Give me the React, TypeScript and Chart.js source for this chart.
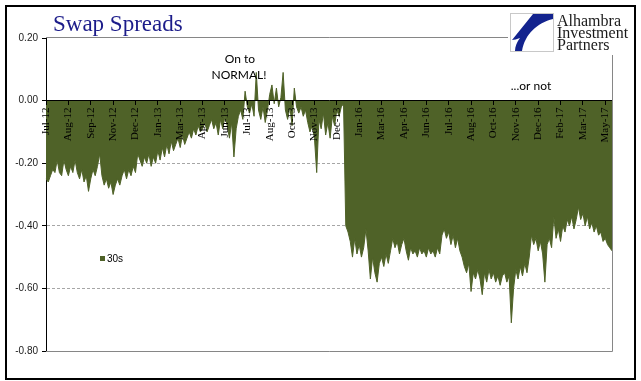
import React, { useEffect, useRef } from "react";
import { Chart, registerables } from "chart.js";

Chart.register(...registerables);

const TITLE = "Swap Spreads";
const SERIES_NAME = "30s";
const LOGO_LINES = ["Alhambra", "Investment", "Partners"];
const NOTE_1 = ["On to", "NORMAL!"];
const NOTE_2 = "...or not";

const tickLabels = [
  "Jul-12", "Aug-12", "Sep-12", "Nov-12", "Dec-12", "Jan-13", "Mar-13", "Apr-13", "Jun-13",
  "Jul-13", "Aug-13", "Oct-13", "Nov-13", "Dec-13", "Jan-16", "Mar-16", "Apr-16", "Jun-16",
  "Jul-16", "Aug-16", "Oct-16", "Nov-16", "Dec-16", "Feb-17", "Mar-17", "May-17",
];
const POINTS_PER_LABEL = 10;

const yTicks = [0.2, 0, -0.2, -0.4, -0.6, -0.8];

// 30-year swap spread, Jul 2012 - Dec 2013
const spread30s_2012_13 = [
  -0.25, -0.26, -0.24, -0.22, -0.23, -0.19, -0.23, -0.24, -0.19, -0.22,
  -0.24, -0.21, -0.23, -0.19, -0.23, -0.25, -0.22, -0.26, -0.24, -0.29,
  -0.25, -0.22, -0.24, -0.21, -0.17, -0.24, -0.27, -0.25, -0.28, -0.26,
  -0.30, -0.27, -0.25, -0.27, -0.24, -0.22, -0.25, -0.22, -0.24, -0.21,
  -0.23, -0.17, -0.19, -0.21, -0.18, -0.20, -0.17, -0.21, -0.18, -0.20,
  -0.16, -0.19, -0.15, -0.18, -0.14, -0.17, -0.13, -0.16, -0.14, -0.12,
  -0.15, -0.11, -0.14, -0.12, -0.10, -0.12, -0.09, -0.11, -0.08, -0.10,
  -0.09, -0.07, -0.10, -0.08, -0.06, -0.09, -0.07, -0.11, -0.06, -0.09,
  -0.05, -0.08, -0.12, -0.07, -0.18, -0.09, -0.05, -0.03, -0.06, 0.03,
  -0.02, -0.04, -0.01, -0.05, 0.09, -0.03, -0.06, -0.02, -0.07, -0.03,
  0.02, 0.05, -0.01, 0.04, -0.02, 0.01, 0.09, -0.03, -0.06, -0.02,
  -0.08, 0.04, -0.02, -0.04, -0.02, -0.05, -0.03, -0.07, -0.10, -0.08,
  -0.12, -0.23, -0.06, -0.09, -0.04, -0.11, -0.07, -0.12, -0.05, -0.08,
  -0.03, -0.05, -0.02, -0.01,
];

// 30-year swap spread, Jan 2016 - May 2017
const spread30s_2016_17 = [
  -0.40, -0.42, -0.45, -0.50, -0.44, -0.49,
  -0.46, -0.50, -0.47, -0.41, -0.48, -0.57, -0.50, -0.55, -0.58, -0.52,
  -0.50, -0.53, -0.49, -0.52, -0.48, -0.44, -0.47, -0.45, -0.49, -0.46,
  -0.44, -0.48, -0.51, -0.47, -0.49, -0.48, -0.50, -0.47, -0.49, -0.48,
  -0.50, -0.47, -0.49, -0.48, -0.50, -0.47, -0.49, -0.43, -0.41, -0.44,
  -0.42, -0.46, -0.43, -0.47, -0.44, -0.48, -0.50, -0.53, -0.55, -0.52,
  -0.61, -0.55, -0.57, -0.54, -0.57, -0.62, -0.55, -0.58, -0.54, -0.57,
  -0.55, -0.58, -0.56, -0.59, -0.56, -0.55, -0.58, -0.56, -0.71, -0.60,
  -0.54, -0.57, -0.53, -0.56, -0.52, -0.55, -0.50, -0.43, -0.46, -0.44,
  -0.48, -0.45, -0.49, -0.58, -0.46, -0.44, -0.47, -0.37, -0.44, -0.41,
  -0.45, -0.40, -0.42, -0.38, -0.40, -0.37, -0.41, -0.38, -0.34, -0.38,
  -0.36, -0.40, -0.37, -0.41, -0.39, -0.42, -0.40, -0.43, -0.42, -0.45,
  -0.44, -0.46, -0.47, -0.48,
];

const AREA_COLOR = "#4f6228";

const decorPlugin = {
  id: "decor",
  beforeDraw(chart: any) {
    const ctx = chart.ctx;
    ctx.save();
    ctx.fillStyle = "#ffffff";
    ctx.fillRect(0, 0, chart.width, chart.height);
    ctx.restore();
  },
  afterDraw(chart: any) {
    const ctx = chart.ctx;
    const ca = chart.chartArea;
    const ys = chart.scales.y;
    const xs = chart.scales.x;
    ctx.save();

    // plot border (top, right, bottom)
    const top = Math.round(ys.getPixelForValue(yTicks[0])) - 0.5;
    const bot = Math.round(ys.getPixelForValue(yTicks[yTicks.length - 1])) + 0.5;
    const right = Math.round(ca.right) + 0.5;
    ctx.strokeStyle = "#868686";
    ctx.lineWidth = 1;
    ctx.beginPath();
    ctx.moveTo(ca.left, top);
    ctx.lineTo(right, top);
    ctx.lineTo(right, bot);
    ctx.lineTo(ca.left, bot);
    ctx.stroke();

    // logo area
    ctx.fillStyle = "#ffffff";
    ctx.fillRect(508, 8, 126, 47);
    ctx.strokeStyle = "#c8c8c8";
    ctx.strokeRect(510.5, 13.5, 43, 38);
    ctx.fillStyle = "#13238e";
    ctx.beginPath();
    ctx.moveTo(533, 14);
    ctx.lineTo(553, 14);
    ctx.lineTo(553, 19);
    ctx.bezierCurveTo(537, 23, 525, 34, 522, 51);
    ctx.lineTo(515, 51);
    ctx.bezierCurveTo(515, 46, 517, 42, 520, 38);
    ctx.bezierCurveTo(517, 39, 514, 40, 512, 40);
    ctx.closePath();
    ctx.fill();
    ctx.fillStyle = "#1a1a1a";
    ctx.font = '16px "Liberation Serif"';
    ctx.textAlign = "left";
    ctx.textBaseline = "alphabetic";
    LOGO_LINES.forEach((s, i) => ctx.fillText(s, 557, 26 + i * 12));

    // outer frame
    ctx.strokeStyle = "#000000";
    ctx.lineWidth = 2;
    ctx.strokeRect(6, 6, 629, 373);

    // title
    ctx.fillStyle = "#1c1c8a";
    ctx.font = '23px "Liberation Serif"';
    ctx.fillText(TITLE, 53, 31);

    // annotations
    ctx.fillStyle = "#000000";
    ctx.font = '12px Lato';
    ctx.textAlign = "center";
    ctx.textBaseline = "middle";
    ctx.fillText(NOTE_1[0], 240, 59);
    ctx.fillText(NOTE_1[1], 239, 75);
    ctx.fillText(NOTE_2, 531, 86);

    // legend
    ctx.fillStyle = AREA_COLOR;
    ctx.fillRect(100, 256, 5, 5);
    ctx.fillStyle = "#000000";
    ctx.font = '10px "Liberation Sans"';
    ctx.textAlign = "left";
    ctx.fillText(SERIES_NAME, 107, 259);

    ctx.restore();
  },
};

export default function App() {
  const canvasRef = useRef<HTMLCanvasElement | null>(null);

  useEffect(() => {
    const values = [...spread30s_2012_13, ...spread30s_2016_17];
    const categories = values.map((_, i) =>
      i % POINTS_PER_LABEL === 0 && tickLabels[i / POINTS_PER_LABEL] ? tickLabels[i / POINTS_PER_LABEL] : ""
    );
    const chart = new Chart(canvasRef.current as HTMLCanvasElement, {
      type: "line",
      data: {
        labels: categories,
        datasets: [
          {
            label: SERIES_NAME,
            data: values,
            fill: "origin",
            backgroundColor: AREA_COLOR,
            borderColor: AREA_COLOR,
            borderWidth: 1,
            pointRadius: 0,
            tension: 0,
          },
        ],
      },
      options: {
        responsive: false,
        animation: false,
        events: [],
        layout: { autoPadding: false, padding: { left: 0, top: 38, right: 29, bottom: 30 } },
        plugins: { legend: { display: false }, title: { display: false }, tooltip: { enabled: false } },
        scales: {
          x: {
            type: "category",
            position: { y: 0 } as any,
            offset: false,
            grid: { drawOnChartArea: false, drawTicks: true, tickLength: 4, tickColor: "#000000", z: 1 },
            border: { display: true, color: "#000000", width: 1, z: 1 },
            ticks: {
              z: 1,
              autoSkip: false,
              minRotation: 90,
              maxRotation: 90,
              padding: 3,
              color: "#000000",
              font: { family: '"Liberation Serif"', size: 11 },
              callback: (_v: any, i: number) =>
                i % POINTS_PER_LABEL === 0 && tickLabels[i / POINTS_PER_LABEL] ? tickLabels[i / POINTS_PER_LABEL] : null,
            },
            afterFit: (s: any) => {
              s.paddingLeft = 0;
              s.paddingRight = 0;
            },
          },
          y: {
            min: yTicks[yTicks.length - 1],
            max: yTicks[0],
            afterBuildTicks: (s: any) => {
              s.ticks = yTicks.map((v) => ({ value: v }));
            },
            grid: {
              color: (c: any) => {
                const v = c.tick ? c.tick.value : 0;
                return v < -0.1 && v > -0.7 ? "#a6a6a6" : "rgba(0,0,0,0)";
              },
              tickColor: "#000000",
              tickLength: 4,
              lineWidth: 1,
            },
            border: { display: true, color: "#000000", width: 1, dash: [3, 2] },
            ticks: {
              padding: 4,
              color: "#1a1a1a",
              font: { family: '"Liberation Sans"', size: 10 },
              callback: (v: any) => (Math.abs(Number(v)) < 1e-9 ? 0 : Number(v)).toFixed(2),
            },
            afterFit: (s: any) => {
              s.width = 46;
              s.paddingTop = 0;
              s.paddingBottom = 0;
            },
          },
        },
      },
      plugins: [decorPlugin],
    });
    return () => chart.destroy();
  }, []);

  return (
    <div style={{ position: "absolute", left: 0, top: 0, width: 641, height: 381 }}>
      <canvas ref={canvasRef} width={641} height={381} style={{ display: "block" }} />
    </div>
  );
}
